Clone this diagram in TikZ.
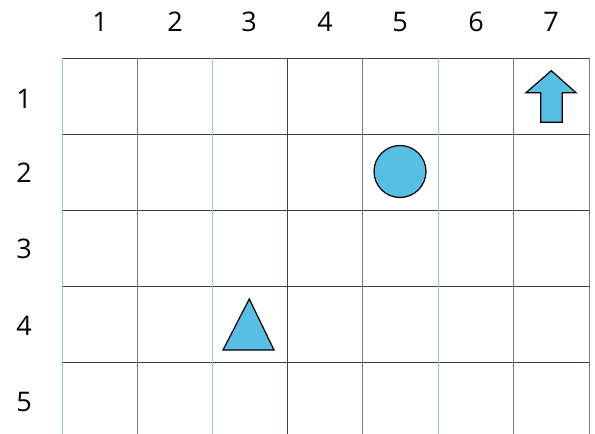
\documentclass[tikz,border=0pt]{standalone}
\usepackage{fontspec}
\setmainfont{Open Sans}
\definecolor{skyfill}{RGB}{88,190,228}
\definecolor{darkgrid}{RGB}{60,60,90}
\definecolor{midgrid}{RGB}{120,120,125}
\definecolor{lightgrid}{RGB}{165,195,205}
\begin{document}
\begin{tikzpicture}[x=1pt,y=-1pt,
  darkline/.style={draw=darkgrid, line width=1pt},
  lightline/.style={draw=lightgrid, line width=0.9pt},
  midline/.style={draw=midgrid, line width=1pt},
  shapefill/.style={fill=skyfill, draw=black, line width=1.2pt, line join=miter},
  lbl/.style={font=\fontsize{27}{30}\selectfont, inner sep=0pt}]
\useasboundingbox (0,0) rectangle (595,434);
% horizontal lines
\foreach \y in {58,134,210,286,362} \draw[darkline] (62,\y) -- (589,\y);
% vertical lines
\draw[lightline] (62,58) -- (62,434);
\draw[midline] (137.5,58) -- (137.5,434);
\draw[lightline] (212,58) -- (212,434);
\draw[darkline] (287,58) -- (287,434);
\draw[midline] (362,58) -- (362,434);
\draw[lightline] (438,58) -- (438,434);
\draw[midline] (513,58) -- (513,434);
\draw[midline] (589,58) -- (589,434);
% column labels
\node[lbl] (c1) at (100,22) {1};
\node[lbl] (c2) at (175,22) {2};
\node[lbl] (c3) at (249,22) {3};
\node[lbl] (c4) at (325,22) {4};
\node[lbl] (c5) at (400,22) {5};
\node[lbl] (c6) at (476,22) {6};
\node[lbl] (c7) at (551,22) {7};
% row labels
\node[lbl] (r1) at (24,99) {1};
\node[lbl] (r2) at (24,173) {2};
\node[lbl] (r3) at (24,249) {3};
\node[lbl] (r4) at (24,326) {4};
\node[lbl] (r5) at (24,402) {5};
% shapes
\draw[shapefill] (400,171.5) circle (26);
\draw[shapefill] (249.3,299) -- (274,350) -- (223,350) -- cycle;
\draw[shapefill] (551.3,70.7) -- (576,92.7) -- (562.3,92.7) -- (562.3,122.3)
  -- (540.7,122.3) -- (540.7,92.7) -- (526,92.7) -- cycle;
\end{tikzpicture}
\end{document}
